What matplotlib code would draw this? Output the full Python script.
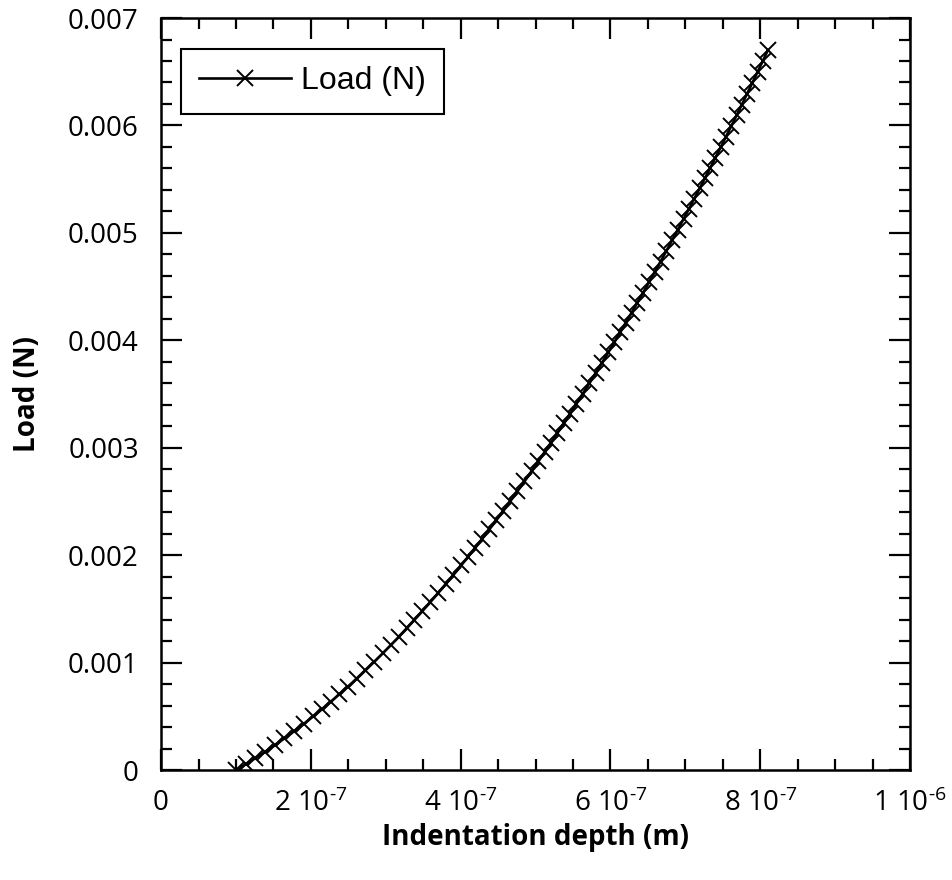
# coding: utf-8

import matplotlib
matplotlib.use('Agg')
import matplotlib.pyplot as plt
from matplotlib.ticker import MultipleLocator

# indentation depth (nm) and load (mN)
depth_nm = [
    100.0, 112.9, 125.9, 138.8, 151.7, 164.6, 177.6, 190.5, 203.1, 214.7,
    226.3, 238.0, 249.6, 261.2, 272.8, 284.5, 296.1, 306.9, 317.4, 327.8,
    338.2, 348.7, 359.1, 369.5, 379.9, 390.4, 400.7, 410.1, 419.5, 428.9,
    438.3, 447.7, 457.1, 466.5, 475.8, 485.2, 494.6, 503.6, 512.1, 520.6,
    529.1, 537.6, 546.1, 554.6, 563.1, 571.6, 580.1, 588.6, 597.1, 605.1,
    612.8, 620.5, 628.2, 635.9, 643.6, 651.3, 659.0, 666.8, 674.5, 682.2,
    689.9, 697.6, 704.9, 711.9, 719.0, 726.0, 733.1, 740.1, 747.2, 754.2,
    761.3, 768.3, 775.4, 782.4, 789.5, 796.6, 803.4, 810.0,
]
load_mN = [
    0.000, 0.054, 0.110, 0.169, 0.230, 0.294, 0.361, 0.429, 0.499, 0.565,
    0.634, 0.705, 0.777, 0.851, 0.928, 1.007, 1.087, 1.164, 1.240, 1.318,
    1.397, 1.478, 1.560, 1.644, 1.730, 1.817, 1.905, 1.987, 2.070, 2.154,
    2.240, 2.327, 2.415, 2.505, 2.595, 2.687, 2.781, 2.872, 2.959, 3.047,
    3.136, 3.226, 3.318, 3.410, 3.504, 3.598, 3.694, 3.791, 3.889, 3.982,
    4.073, 4.164, 4.257, 4.350, 4.444, 4.539, 4.635, 4.733, 4.831, 4.930,
    5.029, 5.130, 5.226, 5.319, 5.414, 5.508, 5.605, 5.701, 5.798, 5.896,
    5.995, 6.094, 6.195, 6.296, 6.398, 6.502, 6.601, 6.699,
]

x_ticks = [0, 2e-7, 4e-7, 6e-7, 8e-7, 1e-6]
x_tick_labels = ['0', r'2 10$^{\text{-7}}$', r'4 10$^{\text{-7}}$',
                 r'6 10$^{\text{-7}}$', r'8 10$^{\text{-7}}$',
                 r'1 10$^{\text{-6}}$']
y_ticks = [0, 0.001, 0.002, 0.003, 0.004, 0.005, 0.006, 0.007]
y_tick_labels = ['0', '0.001', '0.002', '0.003', '0.004', '0.005', '0.006',
                 '0.007']


def main():
    plt.rcParams['font.family'] = ['Open Sans', 'DejaVu Sans']
    plt.rcParams['mathtext.fontset'] = 'custom'
    plt.rcParams['mathtext.rm'] = 'Open Sans'
    plt.rcParams['mathtext.default'] = 'regular'

    depth = [d * 1e-9 for d in depth_nm]
    load = [p * 1e-3 for p in load_mN]

    fig = plt.figure(figsize=(9.53, 8.8), dpi=100)
    ax = fig.add_axes([0.169, 0.125, 0.786, 0.8545])

    ax.plot(depth, load, color='black', lw=1.9, marker='x', ms=11,
            mew=1.4, label='Load (N)')

    ax.set_xlim(0, 1e-6)
    ax.set_ylim(0, 0.007)
    ax.set_xticks(x_ticks)
    ax.set_xticklabels(x_tick_labels)
    ax.set_yticks(y_ticks)
    ax.set_yticklabels(y_tick_labels)
    ax.xaxis.set_minor_locator(MultipleLocator(5e-8))
    ax.yaxis.set_minor_locator(MultipleLocator(0.0002))

    ax.tick_params(which='both', direction='in', top=True, right=True,
                   width=1.6, labelsize=20)
    ax.tick_params(axis='x', which='major', pad=14)
    ax.tick_params(axis='y', which='major', pad=16)
    ax.tick_params(which='major', length=15)
    ax.tick_params(which='minor', length=8)
    for s in ax.spines.values():
        s.set_linewidth(1.8)

    ax.set_xlabel('Indentation depth (m)', fontsize=20, fontweight='bold')
    ax.set_ylabel('Load (N)', fontsize=20, fontweight='bold')
    ax.xaxis.set_label_coords(0.5, -0.070)
    ax.yaxis.set_label_coords(-0.159, 0.5)

    leg = ax.legend(loc='upper left', bbox_to_anchor=(0.027, 0.959),
                    borderaxespad=0, fancybox=False, framealpha=1,
                    edgecolor='black', handlelength=2.9, handletextpad=0.3,
                    borderpad=0.55,
                    prop={'family': 'Liberation Sans', 'size': 23})
    leg.get_frame().set_linewidth(1.5)

    fig.savefig('out.png', dpi=100)


if __name__ == '__main__':
    main()
